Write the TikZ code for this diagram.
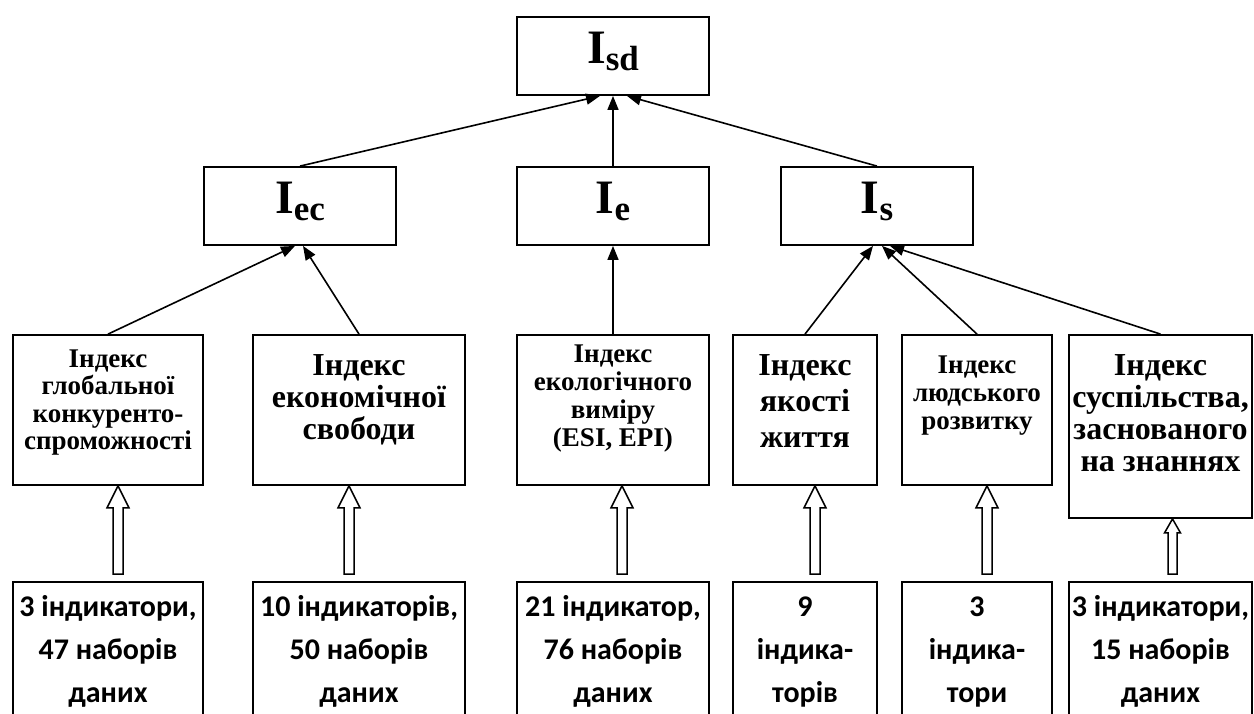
\documentclass[tikz,border=0pt]{standalone}
\usepackage{fontspec}
\setmainfont{Liberation Serif}
\newfontfamily\calibri{Carlito}
\usepackage{tikz}
\usetikzlibrary{arrows.meta,calc,positioning}

\tikzset{
  box/.style={draw, line width=1.8pt, inner sep=0pt},
  idx/.style={box, minimum width=192pt, minimum height=78pt, text height=46pt, text depth=32pt,
    font=\bfseries\fontsize{48}{48}\selectfont},
  small/.style={font=\bfseries\fontsize{27}{28}\selectfont},
  big/.style={font=\bfseries\fontsize{32}{32}\selectfont},
  data/.style={box, minimum height=158pt, text height=34pt, text depth=124pt,
    font=\calibri\bfseries\fontsize{30}{43}\selectfont},
  link/.style={line width=1.6pt, -{Triangle[length=14pt,width=11pt]}},
  hollow/.style={line width=1.5pt, fill=white, line join=miter}
}

% subscript of an index
\newcommand{\isub}[1]{\raisebox{-7pt}{\fontsize{35}{35}\selectfont #1}}
% lines hung from the first baseline
\newcommand{\lines}[1]{\begin{tabular}[t]{@{}c@{}}#1\end{tabular}}

% open block arrow: lower node, upper node, x shift, shaft half, head half, head length
\newcommand{\fatarrow}[6]{%
  \draw[hollow] let \p1=($(#1.north)+(#3,0)$), \p2=(#2.south) in
    (\x1-#4,\y1+7pt) -- (\x1-#4,\y2-#6) -- (\x1-#5,\y2-#6) -- (\x1,\y2)
    -- (\x1+#5,\y2-#6) -- (\x1+#4,\y2-#6) -- (\x1+#4,\y1+7pt) -- cycle;}

\begin{document}
\begin{tikzpicture}[x=1pt, y=-1pt]
  \clip (0,0) rectangle (1254,713);

  % Top index
  \node[idx] (isd) at (613,56) {I\isub{sd}};

  % Partial indices
  \node[idx] (iec) at (300,206) {I\isub{ec}};
  \node[idx] (ie) at (613,206) {I\isub{e}};
  \node[idx] (is) at (877,206) {I\isub{s}};

  % Source indices
  \node[box, minimum width=190pt, minimum height=150pt, text height=32pt, text depth=118pt,
    font=\bfseries\fontsize{27}{27.5}\selectfont]
    (b1) at (108,410) {\lines{Індекс\\глобальної\\конкуренто-\\спроможності}};
  \node[box, big, minimum width=212pt, minimum height=150pt, text height=40pt, text depth=110pt]
    (b2) at (359,410) {\lines{Індекс\\економічної\\свободи}};
  \node[box, small, minimum width=192pt, minimum height=150pt, text height=27pt, text depth=123pt]
    (b3) at (613,410) {\lines{Індекс\\екологічного\\виміру\\(ESI, EPI)}};
  \node[box, minimum width=144pt, minimum height=150pt, text height=40pt, text depth=110pt,
    font=\bfseries\fontsize{32}{36}\selectfont]
    (b4) at (805,410) {\lines{Індекс\\якості\\життя}};
  \node[box, small, minimum width=150pt, minimum height=150pt, text height=38pt, text depth=112pt]
    (b5) at (977,410) {\lines{Індекс\\людського\\розвитку}};
  \node[box, big, minimum width=183pt, minimum height=183pt, text height=40pt, text depth=143pt]
    (b6) at (1160.5,426.5) {\lines{Індекс\\суспільства,\\заснованого\\на знаннях}};

  % Data blocks
  \node[data, minimum width=190pt] (d1) at (108,661) {\lines{3 індикатори,\\47 наборів\\даних}};
  \node[data, minimum width=212pt] (d2) at (359,661) {\lines{10 індикаторів,\\50 наборів\\даних}};
  \node[data, minimum width=192pt] (d3) at (613,661) {\lines{21 індикатор,\\76 наборів\\даних}};
  \node[data, minimum width=144pt] (d4) at (805,661) {\lines{9\\індика-\\торів}};
  \node[data, minimum width=150pt] (d5) at (977,661) {\lines{3\\індика-\\тори}};
  \node[data, minimum width=183pt] (d6) at (1160.5,661) {\lines{3 індикатори,\\15 наборів\\даних}};

  % Links to the top
  \draw[link] (iec.north) -- ([xshift=-13pt]isd.south);
  \draw[link] (ie.north) -- (isd.south);
  \draw[link] (is.north) -- ([xshift=14pt]isd.south);

  % Links to partial indices
  \draw[link] (b1.north) -- ([xshift=-5pt]iec.south);
  \draw[link] (b2.north) -- ([xshift=3pt]iec.south);
  \draw[link] (b3.north) -- (ie.south);
  \draw[link] (b4.north) -- ([xshift=-4pt]is.south);
  \draw[link] (b5.north) -- ([xshift=5pt]is.south);
  \draw[link] (b6.north) -- ([xshift=13pt]is.south);

  % Data feeding the indices
  \fatarrow{d1}{b1}{10}{5pt}{11pt}{22pt}
  \fatarrow{d2}{b2}{-10}{5pt}{11pt}{22pt}
  \fatarrow{d3}{b3}{9}{5pt}{11pt}{22pt}
  \fatarrow{d4}{b4}{10}{5pt}{11pt}{22pt}
  \fatarrow{d5}{b5}{10}{5pt}{11pt}{22pt}
  \fatarrow{d6}{b6}{12}{4.5pt}{8pt}{14pt}
\end{tikzpicture}
\end{document}
